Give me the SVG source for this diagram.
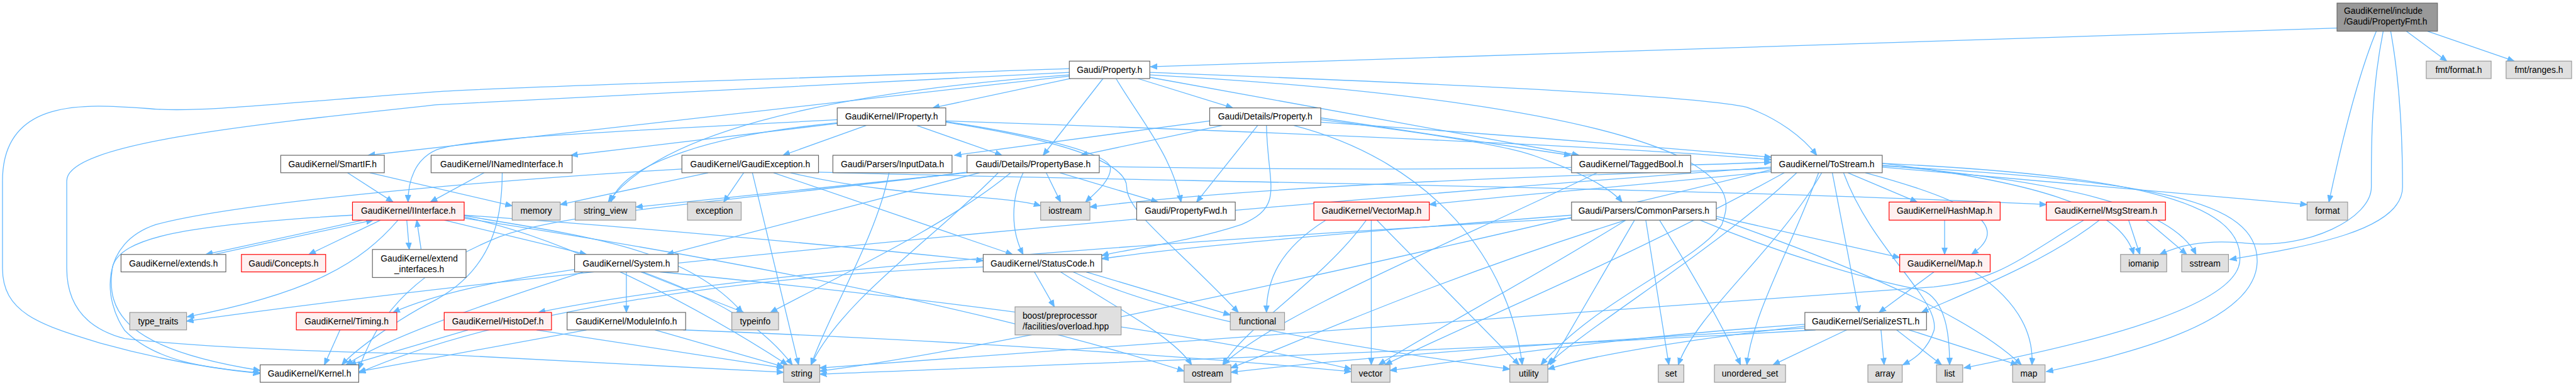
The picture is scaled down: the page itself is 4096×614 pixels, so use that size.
<svg xmlns="http://www.w3.org/2000/svg" width="4096" height="614" viewBox="0 0 4096 614">
<style>
text{font-family:"Liberation Sans",Arial,sans-serif;font-size:14px;fill:#000}
.c{text-anchor:middle}
.w rect{fill:#fff;stroke:#666;stroke-width:1.2}
.g rect{fill:#e0e0e0;stroke:#999;stroke-width:1.2}
.r rect{fill:#fff0f0;stroke:#f00;stroke-width:1.2}
.d rect{fill:#999;stroke:#666;stroke-width:1.2}
#edges path{fill:none;stroke:#63b8ff;stroke-width:1.3;marker-end:url(#a)}
</style>
<defs>
<marker id="a" markerUnits="userSpaceOnUse" markerWidth="12" markerHeight="10" refX="11" refY="5" orient="auto">
<path d="M0,0.5 L11,5 L0,9.5 z" fill="#63b8ff" stroke="#63b8ff" stroke-width="1"/>
</marker>
</defs>
<rect x="0" y="0" width="4096" height="614" fill="#fff"/>
<g transform="scale(0.992)">
<g id="edges">
<path d="M3746,45 L1844,107"/>
<path d="M3857,50 L3922,98"/>
<path d="M3891,50 L4030,98"/>
<path d="M3809,50 C3780,120 3755,220 3733,324"/>
<path d="M3820,50 C3800,150 3801,240 3801,300 C3801,350 3700,400 3600,390 C3530,383 3490,395 3462,408"/>
<path d="M3832,50 C3850,150 3851,250 3851,300 C3851,370 3700,395 3574,416"/>
<path d="M1714,110 C1300,125 800,140 700,147 C450,165 330,180 250,175 C150,168 4,150 4,290 L4,430 C4,500 60,520 160,550 C250,575 330,590 417,599"/>
<path d="M1714,116 C1200,140 800,160 700,168 C400,200 107,230 107,290 L107,430 C107,500 150,530 200,543 C350,560 600,566 700,568 L1256,597"/>
<path d="M1714,122 L590,249"/>
<path d="M1716,126 L1495,173"/>
<path d="M1768,126 L1672,249"/>
<path d="M1789,126 C1820,180 1880,250 1893,324"/>
<path d="M1824,126 L1976,173"/>
<path d="M1843,124 L2531,249"/>
<path d="M1843,116 C2200,130 2700,150 2800,172 C2850,190 2890,220 2912,249"/>
<path d="M1843,120 C2200,140 2550,180 2700,255 C2780,300 2770,330 2760,360 C2720,420 2560,480 2470,585"/>
<path d="M1714,120 C1300,150 1050,220 975,324"/>
<path d="M557,277 L630,324"/>
<path d="M593,277 L821,330"/>
<path d="M1342,198 L915,249"/>
<path d="M1342,192 C1000,210 760,220 700,240 C665,255 654,290 654,324"/>
<path d="M1389,201 L1255,249"/>
<path d="M1469,201 L1606,249"/>
<path d="M1342,197 C1150,215 1000,260 979,324"/>
<path d="M1516,195 C1650,215 1780,245 1780,270 C1780,290 1755,310 1740,324"/>
<path d="M1516,196 C1700,225 1806,260 1806,300 C1806,340 1880,390 1985,501"/>
<path d="M1516,194 C2000,210 2600,235 2839,256"/>
<path d="M1939,194 L1530,249"/>
<path d="M1960,201 L1732,249"/>
<path d="M2016,201 L1918,324"/>
<path d="M2117,189 L2518,249"/>
<path d="M2117,192 C2300,215 2420,235 2460,250 C2530,275 2580,300 2600,324"/>
<path d="M2117,196 C2400,215 2700,240 2839,252"/>
<path d="M2073,201 C2300,260 2420,420 2440,585"/>
<path d="M2030,201 C2032,300 2060,330 1990,360 C1900,390 1800,400 1766,410"/>
<path d="M776,277 L690,324"/>
<path d="M805,277 C805,350 790,430 700,480 C640,510 570,560 548,585"/>
<path d="M1093,271 C850,285 400,320 250,360 C160,390 165,480 200,530 C250,580 330,590 417,598"/>
<path d="M1135,277 L898,328"/>
<path d="M1192,277 L1160,324"/>
<path d="M1206,277 L1280,585"/>
<path d="M1240,277 L1623,408"/>
<path d="M1267,277 C1450,320 1600,310 1668,330"/>
<path d="M1312,276 C1800,290 2700,300 3280,328"/>
<path d="M1550,277 L1019,332"/>
<path d="M1640,277 C1620,320 1620,370 1640,408"/>
<path d="M1677,277 L1700,324"/>
<path d="M1570,277 L1069,408"/>
<path d="M1600,277 C1500,380 1350,480 1300,585"/>
<path d="M1620,277 C1520,360 1350,440 1235,501"/>
<path d="M1762,267 C2200,275 2600,270 2839,260"/>
<path d="M1550,276 C1200,320 900,340 800,380 C650,440 600,520 575,592"/>
<path d="M1699,277 L1856,324"/>
<path d="M1425,277 C1405,380 1330,500 1300,585"/>
<path d="M2560,277 C2350,380 2050,500 1960,585"/>
<path d="M2962,277 L3073,324"/>
<path d="M2990,277 C3150,320 3230,360 3160,408"/>
<path d="M2937,277 L2980,501"/>
<path d="M2839,275 C2600,300 2400,315 2291,328"/>
<path d="M2955,277 C3000,400 3110,480 3100,530 C3090,560 3070,575 3050,585"/>
<path d="M3017,262 C3250,290 3400,330 3420,408"/>
<path d="M2839,270 C2400,285 2000,300 1747,332"/>
<path d="M3017,262 C3400,280 3600,320 3590,420 C3580,500 3300,560 3148,590"/>
<path d="M3017,266 C3450,290 3620,320 3618,420 C3615,520 3400,570 3280,596"/>
<path d="M2920,277 C2850,400 2720,500 2690,585"/>
<path d="M3017,265 C3300,290 3480,330 3520,408"/>
<path d="M2839,272 C2400,380 1600,560 1314,595"/>
<path d="M2839,268 C2000,330 900,430 299,515"/>
<path d="M2915,277 C2870,400 2810,500 2800,585"/>
<path d="M2880,277 C2750,400 2550,520 2480,585"/>
<path d="M2860,277 C2600,420 2350,520 2220,585"/>
<path d="M3017,268 L3698,328"/>
<path d="M610,353 L495,408"/>
<path d="M565,345 C300,360 190,380 180,430 C170,500 200,560 417,594"/>
<path d="M744,345 C1100,370 1400,400 1576,418"/>
<path d="M712,353 L940,408"/>
<path d="M744,350 C1200,420 1600,500 1898,595"/>
<path d="M744,348 C900,380 1100,480 1262,585"/>
<path d="M638,353 C580,420 500,470 300,508"/>
<path d="M744,346 C950,380 1100,400 1190,501"/>
<path d="M582,353 L330,408"/>
<path d="M344,408 L598,353"/>
<path d="M652,353 L656,400"/>
<path d="M675,400 L668,353"/>
<path d="M935,436 C800,480 620,540 555,585"/>
<path d="M1004,436 L1004,501"/>
<path d="M1027,436 L1192,501"/>
<path d="M1030,436 C1150,480 1220,520 1270,585"/>
<path d="M921,432 C800,450 700,470 630,501"/>
<path d="M1058,436 C1500,480 1900,530 2166,592"/>
<path d="M1658,436 L1690,492"/>
<path d="M1741,436 L1972,505"/>
<path d="M1700,436 C1800,500 1880,540 1910,585"/>
<path d="M1720,436 C1900,520 2200,560 2420,592"/>
<path d="M1576,428 C1200,440 800,500 575,598"/>
<path d="M750,529 L560,585"/>
<path d="M860,529 L1256,590"/>
<path d="M545,529 L520,585"/>
<path d="M940,529 L575,596"/>
<path d="M1050,529 L1256,588"/>
<path d="M1095,529 C1500,545 1900,570 2166,596"/>
<path d="M2125,353 C2050,400 2030,450 2030,501"/>
<path d="M2190,353 C2120,450 2000,520 1960,585"/>
<path d="M2198,353 L2198,585"/>
<path d="M2207,353 L2435,585"/>
<path d="M2606,353 C2450,450 2280,540 2210,585"/>
<path d="M2620,353 L2485,585"/>
<path d="M2638,353 L2675,585"/>
<path d="M2660,353 C2720,450 2760,520 2790,585"/>
<path d="M2720,351 C2860,410 3000,450 3080,465 C3120,480 3125,540 3125,585"/>
<path d="M2751,350 C2950,420 3150,500 3240,585"/>
<path d="M2751,347 L3045,413"/>
<path d="M2519,345 C2200,370 1900,395 1766,415"/>
<path d="M2519,350 C2000,380 1200,430 863,501"/>
<path d="M2606,353 C2300,450 2100,540 1973,590"/>
<path d="M3117,353 L3117,408"/>
<path d="M3100,436 L3012,501"/>
<path d="M3165,436 C3230,480 3260,530 3257,585"/>
<path d="M3365,353 C3280,420 3150,470 3080,501"/>
<path d="M3412,353 L3430,408"/>
<path d="M3440,353 L3505,408"/>
<path d="M3340,353 C3230,420 3200,450 3100,460 C2500,500 1800,560 1314,590"/>
<path d="M3015,529 L3020,585"/>
<path d="M3040,529 L3112,585"/>
<path d="M3060,529 L3234,585"/>
<path d="M2960,529 L2842,585"/>
<path d="M2893,520 C2600,540 2400,570 2228,594"/>
<path d="M2893,523 C2700,545 2550,570 2481,592"/>
<path d="M2893,526 C2500,550 2200,570 1973,597"/>
<path d="M2910,529 C2400,560 1800,580 1314,600"/>
</g>
<g id="n_PropertyFmt" class="d"><rect x="3746" y="5" width="161" height="45"/><text x="3757" y="22">GaudiKernel/include</text><text x="3757" y="39">/Gaudi/PropertyFmt.h</text></g>
<g id="n_fmt_format" class="g"><rect x="3889" y="98" width="104" height="28"/><text class="c" x="3941" y="117">fmt/format.h</text></g>
<g id="n_fmt_ranges" class="g"><rect x="4017" y="98" width="105" height="28"/><text class="c" x="4069.5" y="117">fmt/ranges.h</text></g>
<g id="n_Property" class="w"><rect x="1714" y="98" width="129" height="28"/><text class="c" x="1778.5" y="117">Gaudi/Property.h</text></g>
<g id="n_IProperty" class="w"><rect x="1342" y="173" width="174" height="28"/><text class="c" x="1429" y="192">GaudiKernel/IProperty.h</text></g>
<g id="n_DetailsProperty" class="w"><rect x="1939" y="173" width="178" height="28"/><text class="c" x="2028" y="192">Gaudi/Details/Property.h</text></g>
<g id="n_SmartIF" class="w"><rect x="450" y="249" width="166" height="28"/><text class="c" x="533" y="268">GaudiKernel/SmartIF.h</text></g>
<g id="n_INamedInterface" class="w"><rect x="691" y="249" width="226" height="28"/><text class="c" x="804" y="268">GaudiKernel/INamedInterface.h</text></g>
<g id="n_GaudiException" class="w"><rect x="1093" y="249" width="219" height="28"/><text class="c" x="1202.5" y="268">GaudiKernel/GaudiException.h</text></g>
<g id="n_InputData" class="w"><rect x="1335" y="249" width="191" height="28"/><text class="c" x="1430.5" y="268">Gaudi/Parsers/InputData.h</text></g>
<g id="n_PropertyBase" class="w"><rect x="1550" y="249" width="212" height="28"/><text class="c" x="1656" y="268">Gaudi/Details/PropertyBase.h</text></g>
<g id="n_TaggedBool" class="w"><rect x="2519" y="249" width="191" height="28"/><text class="c" x="2614.5" y="268">GaudiKernel/TaggedBool.h</text></g>
<g id="n_ToStream" class="w"><rect x="2839" y="249" width="178" height="28"/><text class="c" x="2928" y="268">GaudiKernel/ToStream.h</text></g>
<g id="n_IInterface" class="r"><rect x="565" y="324" width="179" height="29"/><text class="c" x="654.5" y="343">GaudiKernel/IInterface.h</text></g>
<g id="n_memory" class="g"><rect x="821" y="324" width="77" height="29"/><text class="c" x="859.5" y="343">memory</text></g>
<g id="n_string_view" class="g"><rect x="922" y="324" width="97" height="29"/><text class="c" x="970.5" y="343">string_view</text></g>
<g id="n_exception" class="g"><rect x="1102" y="324" width="86" height="29"/><text class="c" x="1145" y="343">exception</text></g>
<g id="n_iostream" class="g"><rect x="1668" y="324" width="79" height="29"/><text class="c" x="1707.5" y="343">iostream</text></g>
<g id="n_PropertyFwd" class="w"><rect x="1822" y="324" width="158" height="29"/><text class="c" x="1901" y="343">Gaudi/PropertyFwd.h</text></g>
<g id="n_VectorMap" class="r"><rect x="2106" y="324" width="185" height="29"/><text class="c" x="2198.5" y="343">GaudiKernel/VectorMap.h</text></g>
<g id="n_CommonParsers" class="w"><rect x="2519" y="324" width="232" height="29"/><text class="c" x="2635" y="343">Gaudi/Parsers/CommonParsers.h</text></g>
<g id="n_HashMap" class="r"><rect x="3028" y="324" width="178" height="29"/><text class="c" x="3117" y="343">GaudiKernel/HashMap.h</text></g>
<g id="n_MsgStream" class="r"><rect x="3280" y="324" width="191" height="29"/><text class="c" x="3375.5" y="343">GaudiKernel/MsgStream.h</text></g>
<g id="n_format" class="g"><rect x="3698" y="324" width="65" height="29"/><text class="c" x="3730.5" y="343">format</text></g>
<g id="n_extends" class="w"><rect x="194" y="408" width="168" height="28"/><text class="c" x="278" y="427">GaudiKernel/extends.h</text></g>
<g id="n_Concepts" class="r"><rect x="387" y="408" width="135" height="28"/><text class="c" x="454.5" y="427">Gaudi/Concepts.h</text></g>
<g id="n_extend_interfaces" class="w"><rect x="597" y="400" width="150" height="45"/><text class="c" x="672" y="419">GaudiKernel/extend</text><text class="c" x="672" y="436">_interfaces.h</text></g>
<g id="n_System" class="w"><rect x="921" y="408" width="166" height="28"/><text class="c" x="1004" y="427">GaudiKernel/System.h</text></g>
<g id="n_StatusCode" class="w"><rect x="1576" y="408" width="190" height="28"/><text class="c" x="1671" y="427">GaudiKernel/StatusCode.h</text></g>
<g id="n_Map" class="r"><rect x="3045" y="408" width="145" height="28"/><text class="c" x="3117.5" y="427">GaudiKernel/Map.h</text></g>
<g id="n_iomanip" class="g"><rect x="3399" y="408" width="74" height="28"/><text class="c" x="3436" y="427">iomanip</text></g>
<g id="n_sstream" class="g"><rect x="3497" y="408" width="75" height="28"/><text class="c" x="3534.5" y="427">sstream</text></g>
<g id="n_type_traits" class="g"><rect x="208" y="501" width="91" height="28"/><text class="c" x="253.5" y="520">type_traits</text></g>
<g id="n_Timing" class="r"><rect x="475" y="501" width="161" height="28"/><text class="c" x="555.5" y="520">GaudiKernel/Timing.h</text></g>
<g id="n_HistoDef" class="r"><rect x="712" y="501" width="172" height="28"/><text class="c" x="798" y="520">GaudiKernel/HistoDef.h</text></g>
<g id="n_ModuleInfo" class="w"><rect x="909" y="501" width="190" height="28"/><text class="c" x="1004" y="520">GaudiKernel/ModuleInfo.h</text></g>
<g id="n_typeinfo" class="g"><rect x="1173" y="501" width="75" height="28"/><text class="c" x="1210.5" y="520">typeinfo</text></g>
<g id="n_boost" class="g"><rect x="1627" y="492" width="170" height="45"/><text x="1639" y="511">boost/preprocessor</text><text x="1639" y="528">/facilities/overload.hpp</text></g>
<g id="n_functional" class="g"><rect x="1972" y="501" width="87" height="28"/><text class="c" x="2015.5" y="520">functional</text></g>
<g id="n_SerializeSTL" class="w"><rect x="2893" y="501" width="195" height="28"/><text class="c" x="2990.5" y="520">GaudiKernel/SerializeSTL.h</text></g>
<g id="n_Kernel" class="w"><rect x="417" y="585" width="158" height="28"/><text class="c" x="496" y="604">GaudiKernel/Kernel.h</text></g>
<g id="n_string" class="g"><rect x="1256" y="585" width="58" height="28"/><text class="c" x="1285" y="604">string</text></g>
<g id="n_ostream" class="g"><rect x="1898" y="585" width="75" height="28"/><text class="c" x="1935.5" y="604">ostream</text></g>
<g id="n_vector" class="g"><rect x="2166" y="585" width="62" height="28"/><text class="c" x="2197" y="604">vector</text></g>
<g id="n_utility" class="g"><rect x="2420" y="585" width="61" height="28"/><text class="c" x="2450.5" y="604">utility</text></g>
<g id="n_set" class="g"><rect x="2658" y="585" width="41" height="28"/><text class="c" x="2678.5" y="604">set</text></g>
<g id="n_unordered_set" class="g"><rect x="2748" y="585" width="114" height="28"/><text class="c" x="2805" y="604">unordered_set</text></g>
<g id="n_array" class="g"><rect x="2994" y="585" width="55" height="28"/><text class="c" x="3021.5" y="604">array</text></g>
<g id="n_list" class="g"><rect x="3104" y="585" width="42" height="28"/><text class="c" x="3125" y="604">list</text></g>
<g id="n_map" class="g"><rect x="3226" y="585" width="52" height="28"/><text class="c" x="3252" y="604">map</text></g>
</g>
</svg>
